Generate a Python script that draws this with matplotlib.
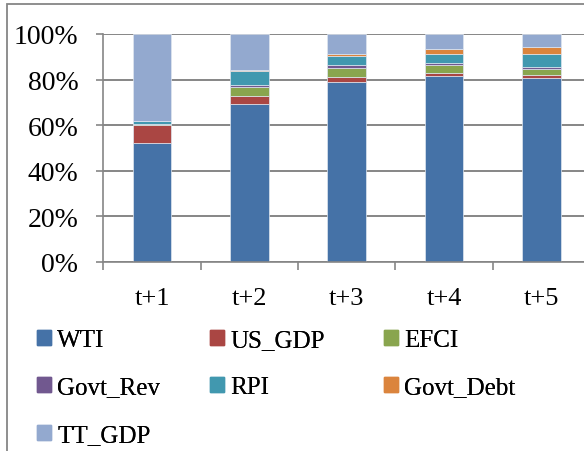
import numpy as np
import matplotlib
matplotlib.use("Agg")
import matplotlib.pyplot as plt
from matplotlib.patches import Rectangle, Patch
from matplotlib.ticker import FixedLocator, PercentFormatter

# share of each driver per horizon (percent)
horizons = ["t+1", "t+2", "t+3", "t+4", "t+5"]
wti       = [52.0, 69.3, 79.1, 81.4, 80.5]
us_gdp    = [8.2, 3.3, 2.0, 1.6, 1.4]
efci      = [0.2, 4.0, 4.0, 3.2, 2.9]
govt_rev  = [0.1, 1.1, 1.1, 0.9, 0.8]
rpi       = [1.2, 6.2, 4.0, 4.0, 5.5]
govt_debt = [0.1, 0.3, 1.0, 2.2, 3.1]
tt_gdp    = [38.2, 15.8, 8.8, 6.7, 5.8]

names = ["WTI", "US_GDP", "EFCI", "Govt_Rev", "RPI", "Govt_Debt", "TT_GDP"]
colors = ["#4572A7", "#AA4643", "#89A54E", "#71588F", "#4198AF", "#DB843D", "#93A9CF"]
series = [wti, us_gdp, efci, govt_rev, rpi, govt_debt, tt_gdp]

plt.rcParams["font.family"] = ["Liberation Serif", "DejaVu Serif"]
grey = "#868686"

fig = plt.figure(figsize=(5.84, 4.52), dpi=100)
ax = fig.add_axes([103.3/584, 1-262.7/452, 486.7/584, 227.7/452])

x = np.arange(len(horizons))
bottom = np.zeros(len(horizons))
for name, col, vals in zip(names, colors, series):
  v = np.array(vals)
  ax.bar(x, v, 0.4, bottom=bottom, color=col, edgecolor="#dfe6f0", linewidth=0.5, label=name, zorder=3)
  bottom += v

ax.set_xlim(-0.5, 4.5)
ax.set_ylim(0, 100)
ax.set_yticks(np.arange(0, 101, 20))
ax.yaxis.set_major_formatter(PercentFormatter(decimals=0))
ax.yaxis.grid(True, color=grey, linewidth=1.4, zorder=0)
ax.set_xticks(x)
ax.set_xticklabels(horizons)
ax.xaxis.set_minor_locator(FixedLocator(np.arange(-0.5, 5, 1)))
ax.tick_params(axis="x", which="major", length=0, pad=18, labelsize=19)
ax.tick_params(axis="x", which="minor", length=6, width=1.2, color=grey)
ax.tick_params(axis="y", length=5, width=1.2, color=grey, pad=13, labelsize=20)
for s in ["top", "right"]:
  ax.spines[s].set_visible(False)
for s in ["left", "bottom"]:
  ax.spines[s].set_color(grey)
  ax.spines[s].set_linewidth(1.2)
  ax.spines[s].set_zorder(4)

# outer chart frame
fig.patches.append(Rectangle((7/584, -0.1), 1.2, 1.1 - 5/452, transform=fig.transFigure,
                             fill=False, edgecolor=grey, linewidth=1.3))

# legend, laid out row by row in three columns
columns = [[0, 3, 6], [1, 4], [2, 5]]
col_x = [37, 210, 384]
for idx, cx in zip(columns, col_x):
  leg = fig.legend([Patch(color=colors[i]) for i in idx], [names[i] for i in idx],
                   loc="upper left", bbox_to_anchor=(cx/584, 1-330/452), frameon=False,
                   fontsize=18, handlelength=0.55, handleheight=0.55, handletextpad=0.25,
                   labelspacing=1.02, borderpad=0, borderaxespad=0)
  fig.add_artist(leg)

fig.savefig("out.png", dpi=100)
